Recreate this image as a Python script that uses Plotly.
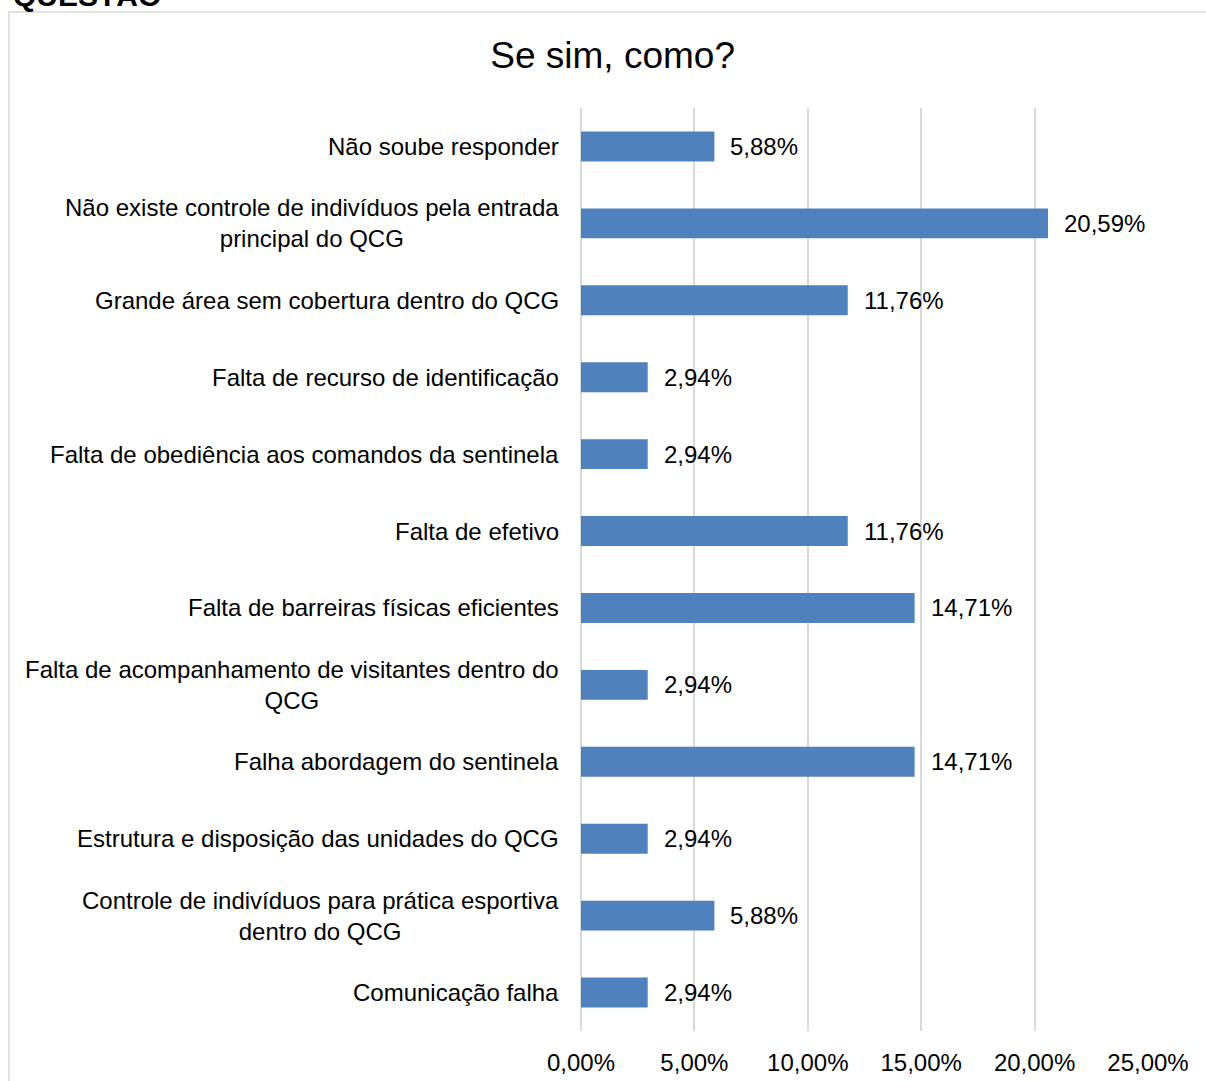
import plotly.graph_objects as go

categories = [
    "Não soube responder",
    "Não existe controle de indivíduos pela entrada<br>principal do QCG",
    "Grande área sem cobertura dentro do QCG",
    "Falta de recurso de identificação",
    "Falta de obediência aos comandos da sentinela",
    "Falta de efetivo",
    "Falta de barreiras físicas eficientes",
    "Falta de acompanhamento de visitantes dentro do<br>QCG",
    "Falha abordagem do sentinela",
    "Estrutura e disposição das unidades do QCG",
    "Controle de indivíduos para prática esportiva<br>dentro do QCG",
    "Comunicação falha",
]
values = [5.88, 20.59, 11.76, 2.94, 2.94, 11.76, 14.71, 2.94, 14.71, 2.94, 5.88, 2.94]
tick_values = [0, 5, 10, 15, 20, 25]


def pct(v):
    return f"{v:.2f}".replace(".", ",") + "%"


FONT = "Liberation Sans, Arial, sans-serif"
FS = 24

fig = go.Figure(go.Bar(
    x=values, y=list(range(len(categories))), orientation="h",
    marker=dict(color="#4F81BD", line=dict(width=0)),
    hoverinfo="skip",
))

ann = []
for i, (c, v) in enumerate(zip(categories, values)):
    ann.append(dict(x=0, y=i, xref="x", yref="y", text=c, showarrow=False,
                    xanchor="right", yanchor="middle", align="center", xshift=-20,
                    font=dict(family=FONT, size=FS, color="#000000")))
    ann.append(dict(x=v, y=i, xref="x", yref="y", text=pct(v), showarrow=False,
                    xanchor="left", yanchor="middle", xshift=14,
                    font=dict(family=FONT, size=FS, color="#000000")))
ann.append(dict(x=-1.005, y=1 + (108 - 14) / 923, xref="paper", yref="paper",
                text="<b>QUESTÃO</b>", showarrow=False, xanchor="left", yanchor="bottom",
                font=dict(family=FONT, size=30, color="#000000")))

fig.update_layout(
    width=1206, height=1081,
    margin=dict(l=581, r=58, t=108, b=50, autoexpand=False),
    paper_bgcolor="white", plot_bgcolor="white",
    bargap=0.61,
    showlegend=False,
    title=dict(text="Se sim, como?", x=0.508, xref="container", xanchor="center",
               y=1 - 55 / 1081, yref="container", yanchor="middle",
               font=dict(family=FONT, size=37, color="#000000")),
    xaxis=dict(range=[0, 25], tickvals=tick_values, ticktext=[pct(t) for t in tick_values],
               showgrid=True, gridcolor="#D9D9D9", gridwidth=1.5,
               zeroline=True, zerolinecolor="#D9D9D9", zerolinewidth=1.5,
               showline=False, ticks="", ticklabelstandoff=15, automargin=False,
               tickfont=dict(family=FONT, size=FS, color="#000000")),
    yaxis=dict(range=[len(categories) - 0.5, -0.5], showticklabels=False,
               showgrid=False, zeroline=False, showline=False, ticks="", automargin=False),
    annotations=ann,
    shapes=[dict(type="rect", xref="paper", yref="paper", x0=-1.0088, x1=1.2,
                 y0=-0.1, y1=1 + (108 - 12) / 923,
                 line=dict(color="#D9D9D9", width=1.5), fillcolor="rgba(0,0,0,0)",
                 layer="below")],
)

fig.write_html("out.html")
